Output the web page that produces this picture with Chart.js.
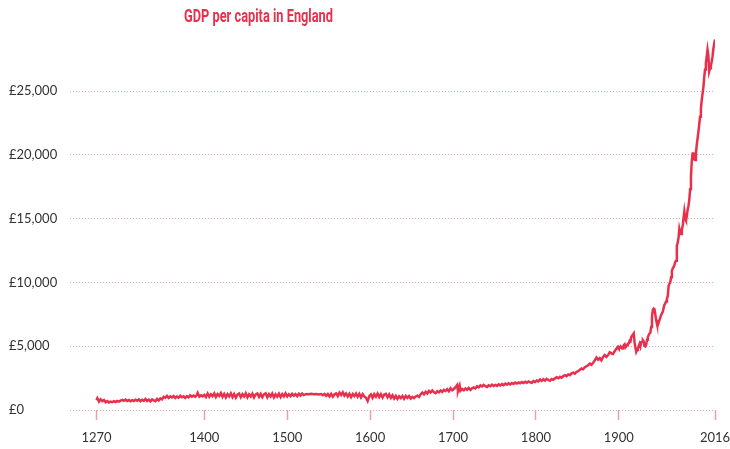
<!DOCTYPE html>
<html>
<head>
<meta charset="utf-8">
<script src="https://cdn.jsdelivr.net/npm/chart.js@4/dist/chart.umd.min.js"></script>
<style>
  html, body { margin: 0; padding: 0; background: #ffffff; }
  #wrap { position: relative; width: 730px; height: 449px; }
  #title { position: absolute; left: 184px; top: 4px; font-family: Roboto, "Open Sans", sans-serif; font-weight: 700; font-size: 19px; color: #e8304d; white-space: nowrap; transform-origin: 0 0; }
</style>
</head>
<body>
<div id="wrap">
  <canvas id="c" width="730" height="449"></canvas>
  <div id="title">GDP per capita in England</div>
</div>
<script>
const chartTitle = "GDP per capita in England";
const yearTicks = [1270, 1400, 1500, 1600, 1700, 1800, 1900, 2016];
const valueTicks = [0, 5000, 10000, 15000, 20000, 25000];

const years = [
1270,1271,1273,1275,1277,1279,1281,1283,1285,1287,1289,1291,1293,1295,1297,1299,
1301,1303,1305,1307,1309,1311,1313,1315,1317,1319,1321,1323,1325,1327,1329,1331,1333,1335,1337,1339,1341,1343,1345,1347,1349,
1351,1353,1355,1357,1359,1361,1363,1365,1367,1369,1371,1373,1375,1377,1379,1381,1383,1385,1387,1389,1391,1392,1394,1396,1398,
1400,1402,1404,1406,1408,1410,1412,1414,1416,1418,1420,1422,1424,1426,1428,1430,1432,1434,1436,1438,1440,1442,1444,1446,1448,
1450,1452,1454,1456,1458,1460,1462,1464,1466,1468,1470,1472,1474,1476,1478,1480,1482,1484,1486,1488,1490,1492,1494,1496,1498,
1500,1502,1504,1506,1508,1510,1512,1514,1516,1518,1520,1523,1526,1529,1532,1535,1538,1541,1543,1545,1547,1549,
1551,1553,1555,1557,1559,1561,1563,1565,1567,1569,1571,1573,1575,1577,1579,1581,1583,1585,1587,1589,1591,1593,1595,1597,1599,
1601,1603,1605,1607,1609,1611,1613,1615,1617,1619,1621,1623,1625,1627,1629,1631,1633,1635,1637,1639,1641,1643,1645,1647,1649,
1651,1653,1655,1657,1659,1661,1663,1665,1667,1669,1671,1673,1675,1677,1679,1681,1683,1685,1687,1689,1691,1693,1695,1697,1699,
1701,1703,1705,1706,1708,1709,1711,1713,1715,1717,1719,1721,1723,1725,1727,1729,1731,1733,1735,1737,1739,1741,1743,1745,1747,1749,
1751,1753,1755,1757,1759,1761,1763,1765,1767,1769,1771,1773,1775,1777,1779,1781,1783,1785,1787,1789,1791,1793,1795,1797,1799,
1801,1803,1805,1807,1809,1811,1813,1815,1817,1819,1821,1823,1825,1827,1829,1831,1833,1835,1837,1839,1841,1843,1845,1847,1849,
1851,1853,1855,1857,1859,1861,1863,1865,1867,1869,1871,1873,1875,1877,1879,1881,1883,1885,1887,1889,1891,1893,1895,1897,1899,
1900,1901,1902,1903,1904,1905,1906,1907,1908,1909,1910,1911,1912,1913,1914,1915,1916,1917,1918,1919,
1920,1921,1922,1923,1924,1925,1926,1927,1928,1929,1930,1931,1932,1933,1934,1935,1936,1937,1938,1939,
1940,1941,1942,1943,1944,1945,1946,1947,1948,1949,1950,1951,1952,1953,1954,1955,1956,1957,1958,1959,
1960,1961,1962,1963,1964,1965,1966,1967,1968,1969,1970,1971,1972,1973,1974,1975,1976,1977,1978,1979,
1980,1981,1982,1983,1984,1985,1986,1987,1988,1989,1990,1991,1992,1993,1994,1995,1996,1997,1998,1999,
2000,2001,2002,2003,2004,2005,2006,2007,2008,2009,2010,2011,2012,2013,2014,2015,2016
];

const gdp = [
760,920,660,840,690,780,610,700,590,660,610,690,630,710,650,730,
790,720,810,710,780,680,770,710,810,730,830,690,800,720,870,710,810,670,830,750,690,870,750,910,830,
1030,970,1110,950,1070,980,1100,940,1050,970,1110,1000,1080,950,1090,990,1150,1040,1130,1030,1180,1340,1050,1160,1070,
1190,1010,1290,1040,1230,1080,1300,1020,1240,1100,1330,1030,1260,990,1240,1060,1310,1010,1250,960,1200,1290,1000,1240,1060,
1310,990,1230,1060,1280,980,1220,1290,1030,1260,1010,1230,1310,1000,1250,1060,1290,990,1230,1050,1280,1010,1250,1070,1300,
1060,1240,1080,1270,1120,1250,1090,1280,1130,1290,1170,1260,1230,1270,1240,1260,1210,1250,1160,1260,1110,1250,
1060,1260,1040,1230,1300,1090,1360,1170,1380,1130,1300,1060,1270,1010,1250,1090,1290,1040,1260,990,1240,1060,960,700,1080,
1220,960,1240,1040,1290,1010,1240,980,1210,1270,1000,1220,950,1150,900,1100,870,1070,930,1100,880,1110,950,1090,900,
1030,930,1060,1120,1030,1240,1370,1230,1430,1290,1490,1370,1530,1390,1320,1480,1390,1530,1420,1570,1490,1630,1470,1710,1550,
1650,1790,1960,1490,1910,1510,1650,1550,1690,1590,1730,1570,1700,1770,1690,1860,1770,1930,1850,1970,1870,1810,1940,1860,1990,1890,
1970,1890,2010,1920,2030,1950,2070,1980,2090,2010,2120,2040,2150,2070,2160,2090,2190,2110,2210,2140,2240,2170,2130,2270,2200,
2310,2240,2390,2280,2410,2310,2440,2350,2290,2430,2370,2480,2570,2490,2610,2530,2660,2730,2650,2790,2730,2870,2930,2850,3000,
3050,3160,3250,3190,3350,3430,3510,3630,3540,3710,3890,4110,3940,4060,3890,4160,4310,4170,4310,4530,4440,4390,4610,4810,4960,
4850,4900,4980,4870,4820,4960,5080,5150,4920,5000,5100,5200,5230,5420,5380,5720,5830,5900,6000,5300,
4900,4560,4700,4850,5000,5180,4980,5320,5350,5470,5380,5020,4980,5120,5500,5700,5880,6000,6050,6500,
7300,7850,7950,7900,7500,7050,6750,6650,6850,7050,7250,7450,7450,7700,8000,8250,8350,8500,8750,8900,
9700,9900,10000,10400,10900,11100,11200,11350,11600,11700,12900,13100,13500,14200,13900,13800,14150,14400,15000,15550,
15000,14850,15200,15700,16000,16500,17300,18300,19500,20100,20100,19650,19600,20100,20800,21300,21800,22400,23000,23600,
24300,24800,25300,26100,26700,27200,27700,28250,27800,26550,26800,27000,27300,27700,28300,28700,29050
];

document.getElementById('title').textContent = chartTitle;
(function fitTitle(){
  const t = document.getElementById('title');
  const w = t.getBoundingClientRect().width;
  const s = 149 / w;
  t.style.transform = 'scaleX(' + s + ')';
})();

const pink = '#eea0aa';
const textCol = '#333333';
const red = '#e8304d';

new Chart(document.getElementById('c'), {
  type: 'line',
  data: {
    datasets: [{
      data: years.map((y, i) => ({ x: y, y: gdp[i] })),
      borderColor: red,
      borderWidth: 2.5,
      pointRadius: 0,
      tension: 0,
      fill: false
    }]
  },
  options: {
    responsive: false,
    animation: false,
    layout: { padding: { left: 9, right: 15, top: 35, bottom: 0 } },
    plugins: { legend: { display: false }, tooltip: { enabled: false }, title: { display: false } },
    scales: {
      x: {
        type: 'linear',
        min: 1238,
        max: 2016,
        afterBuildTicks: (axis) => { axis.ticks = yearTicks.map(v => ({ value: v })); },
        afterFit: (axis) => { axis.height = 39; axis.paddingLeft = 0; axis.paddingRight = 0; },
        ticks: {
          autoSkip: false,
          maxRotation: 0,
          padding: 10,
          color: textCol,
          font: { family: 'Lato, "Open Sans", sans-serif', size: 13 },
          callback: (v) => String(v)
        },
        grid: { drawOnChartArea: false, drawTicks: true, tickLength: 10, tickColor: pink, tickWidth: 1.5 },
        border: { display: false }
      },
      y: {
        type: 'linear',
        min: 0,
        max: 29400,
        afterBuildTicks: (axis) => { axis.ticks = valueTicks.map(v => ({ value: v })); },
        afterFit: (axis) => { axis.width = 61; axis.paddingTop = 0; axis.paddingBottom = 0; },
        ticks: {
          crossAlign: 'far',
          padding: 0,
          color: textCol,
          font: { family: 'Lato, "Open Sans", sans-serif', size: 13 },
          callback: (v) => '£' + v.toLocaleString('en-GB')
        },
        grid: { color: pink, lineWidth: 1, drawTicks: false },
        border: { display: false, dash: [1, 2] }
      }
    }
  }
});
</script>
</body>
</html>
